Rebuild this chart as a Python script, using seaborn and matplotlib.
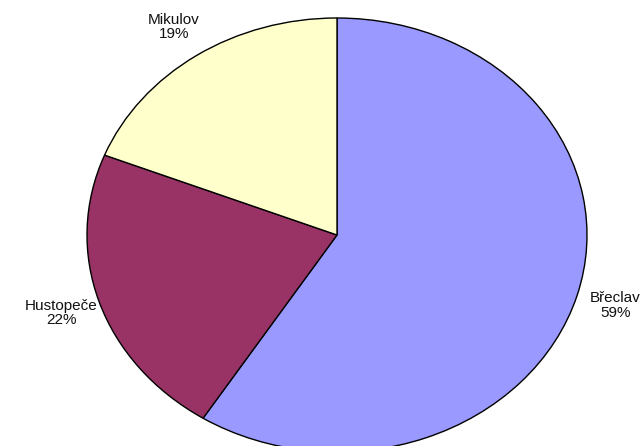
import numpy as np
import matplotlib
matplotlib.use('Agg')
import matplotlib.pyplot as plt
import seaborn as sns

# Data
districts = ['Břeclav', 'Hustopeče', 'Mikulov']
shares = [59, 22, 19]
colors = ['#9999FF', '#993366', '#FFFFCC']

sns.set_theme(style='white')
plt.rcParams['font.family'] = ['Liberation Sans', 'DejaVu Sans']

fig = plt.figure(figsize=(6.42, 4.46), dpi=100)
# axes sized so the unit pie becomes the flattened ellipse of the original
ax = fig.add_axes([87 / 642, -6 / 446, 500 / 642, 434 / 446])

wedges, _ = ax.pie(shares, colors=colors, startangle=90, counterclock=False,
                   radius=1, wedgeprops=dict(edgecolor='black', linewidth=1.0))
ax.set_aspect('auto')
ax.set_xlim(-1, 1)
ax.set_ylim(-1, 1)
ax.axis('off')

total = sum(shares)
for w, name, val in zip(wedges, districts, shares):
    mid = np.deg2rad((w.theta1 + w.theta2) / 2)
    d = 1.16
    ax.text(d * np.cos(mid), d * np.sin(mid), f'{name}\n{val / total * 100:.0f}%',
            ha='center', va='center', fontsize=11, linespacing=1.05,
            color='#111111', clip_on=False)

fig.savefig('out.png', dpi=100)
